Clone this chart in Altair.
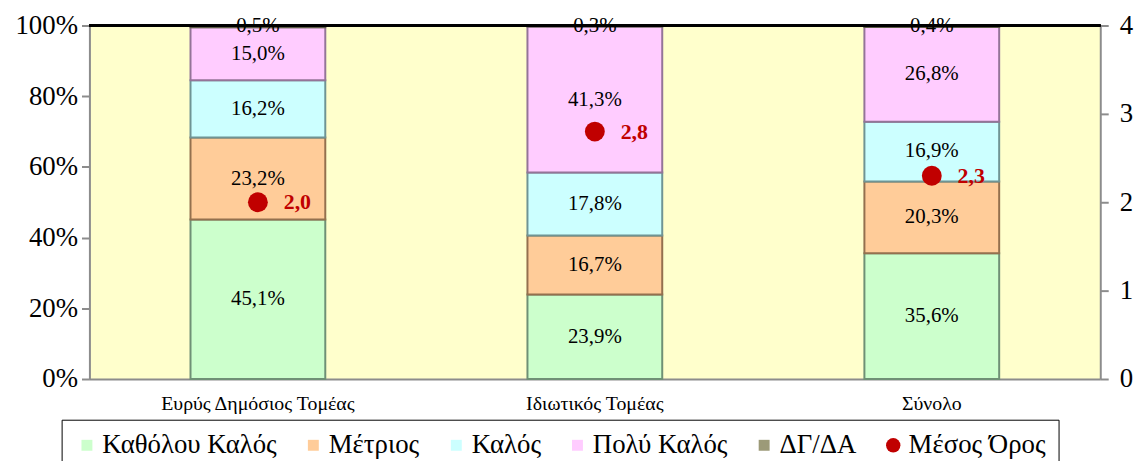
import altair as alt
import pandas as pd

categories = ["Ευρύς Δημόσιος Τομέας", "Ιδιωτικός Τομέας", "Σύνολο"]
series = ["Καθόλου Καλός", "Μέτριος", "Καλός", "Πολύ Καλός", "ΔΓ/ΔΑ"]
mean_name = "Μέσος Όρος"
v_katholou = [45.1, 23.9, 35.6]
v_metrios = [23.2, 16.7, 20.3]
v_kalos = [16.2, 17.8, 16.9]
v_poly = [15.0, 41.3, 26.8]
v_dgda = [0.5, 0.3, 0.4]
means = [2.0, 2.8, 2.3]

fills = ["#CCFFCC", "#FFCC99", "#CCFFFF", "#FFCCFF", "#9C9A78", "#C00000"]
strokes = ["#6F9075", "#94704E", "#6F9494", "#947498", "#5C5C46"]
FONT = "Liberation Serif"

vals = [v_katholou, v_metrios, v_kalos, v_poly, v_dgda]
rows = []
for i, c in enumerate(categories):
    for j, s in enumerate(series):
        v = vals[j][i]
        rows.append({"cat": c, "series": s, "order": j, "value": v / 100.0,
                     "label": f"{v:.1f}".replace(".", ",") + "%"})
df = pd.DataFrame(rows)
mdf = pd.DataFrame({"cat": categories, "series": [mean_name] * 3, "mean": means,
                    "mlabel": [f"{m:.1f}".replace(".", ",") for m in means]})

xenc = alt.X("cat:N", sort=categories, title=None,
             scale=alt.Scale(paddingInner=0.6, paddingOuter=0.3),
             axis=alt.Axis(ticks=False, labelFontSize=20, labelPadding=15, labelAngle=0,
                           domainColor="#8C8C8C", domainWidth=2, labelLimit=400))

legend = alt.Legend(
    title=None, orient="none", legendX=-28, legendY=397, direction="horizontal",
    symbolType={"expr": "datum.value === '" + mean_name + "' ? 'circle' : 'square'"},
    symbolSize={"expr": "datum.value === '" + mean_name + "' ? 210 : 121"},
    labelFont=FONT, labelFontSize=27, labelColor="black", labelLimit=400,
    strokeColor="black", padding=12, columnPadding=23, labelOffset=2,
    symbolStrokeWidth=2,
)
color = alt.Color("series:N", scale=alt.Scale(domain=series + [mean_name], range=fills),
                  legend=legend)

yaxis = alt.Axis(format="%", values=[0, 0.2, 0.4, 0.6, 0.8, 1.0], labelFontSize=27,
                 tickSize=8, tickColor="#8C8C8C", tickWidth=2, domainColor="#8C8C8C",
                 domainWidth=2, grid=False, labelPadding=4)

bars = alt.Chart(df).mark_bar(strokeWidth=2).encode(
    x=xenc,
    y=alt.Y("value:Q", stack="zero", scale=alt.Scale(domain=[0, 1], nice=False),
            axis=yaxis, title=None),
    color=color,
    stroke=alt.Stroke("series:N", scale=alt.Scale(domain=series, range=strokes), legend=None),
    order=alt.Order("order:Q"),
)

labels = alt.Chart(df).transform_stack(
    stack="value", as_=["y0", "y1"], groupby=["cat"], sort=[alt.SortField("order")]
).transform_calculate(mid="(datum.y0 + datum.y1) / 2").mark_text(
    font=FONT, fontSize=21, color="black"
).encode(x=alt.X("cat:N", sort=categories), y=alt.Y("mid:Q"), text="label:N")

top_rule = alt.Chart(df).mark_rule(color="black", strokeWidth=2).encode(
    y=alt.value(0), x=alt.value(0), x2=alt.value(1018))

pts = alt.Chart(mdf).mark_circle(size=400, opacity=1).encode(
    x=alt.X("cat:N", sort=categories),
    y=alt.Y("mean:Q", scale=alt.Scale(domain=[0, 4], nice=False), title=None,
            axis=alt.Axis(orient="right", values=[0, 1, 2, 3, 4], format="d",
                          labelFontSize=27, tickSize=8, tickColor="#8C8C8C", tickWidth=2,
                          domainColor="#8C8C8C", domainWidth=2, grid=False,
                          labelPadding=11)),
    color=color,
)
ptext = alt.Chart(mdf).mark_text(
    align="left", dx=26, font=FONT, fontSize=22, fontWeight="bold", color="#C00000"
).encode(x=alt.X("cat:N", sort=categories), y=alt.Y("mean:Q"), text="mlabel:N")

chart = alt.layer(
    alt.layer(bars, labels, top_rule),
    alt.layer(pts, ptext),
).resolve_scale(y="independent").properties(
    width=1018, height=356,
    autosize=alt.AutoSizeParams(type="none"),
    padding={"left": 82, "top": 16, "right": 38, "bottom": 90},
    title=alt.TitleParams("ΣΥΜΜΕΤΟΧΗΣ ΣΤΟ ΣΧΕΔΙΟ", font=FONT, fontSize=27,
                          fontWeight="bold", color="black", anchor="middle",
                          baseline="alphabetic", offset=8, dx=-9),
).configure_view(fill="#FFFFCC", stroke=None).configure_axis(
    labelFont=FONT, labelColor="black"
)

chart.save("out.html", embed_options={"renderer": "svg", "actions": False})
